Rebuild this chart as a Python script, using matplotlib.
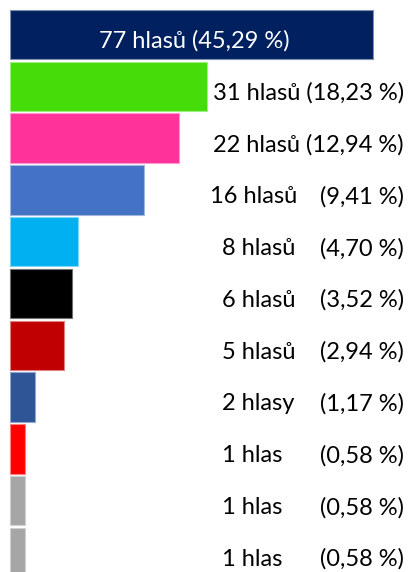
import matplotlib.pyplot as plt

# vote results, top to bottom
votes = [77, 31, 22, 16, 8, 6, 5, 2, 1, 1, 1]
pct = ['45,29', '18,23', '12,94', '9,41', '4,70', '3,52', '2,94', '1,17', '0,58', '0,58', '0,58']
words = ['hlasů', 'hlasů', 'hlasů', 'hlasů', 'hlasů', 'hlasů', 'hlasů', 'hlasy', 'hlas', 'hlas', 'hlas']
# bar lengths as drawn in the picture (not proportional to votes)
bar_len = [363, 197, 169, 134, 68, 62, 54, 25, 15, 15, 15]
colors = ['#002060', '#44DD0A', '#FF3399', '#4472C4', '#00B0F0', '#000000',
          '#C00000', '#2F5597', '#FF0000', '#A6A6A6', '#A6A6A6']
edges = ['#8090B0', '#A0EE80', '#FF99CC', '#A0B8E0', '#80D8F8', '#707070',
         '#E08080', '#90A8D0', '#FF8080', '#D0D0D0', '#D0D0D0']

plt.rcParams['font.family'] = ['Lato', 'DejaVu Sans']

fig = plt.figure(figsize=(4.09, 5.72), dpi=100)
ax = fig.add_axes([0, 0, 1, 1])
ax.set_xlim(-10, 399)
step = 51.8
ax.set_ylim((572 - 34.5) / step, -34.5 / step)
ax.axis('off')

ypos = list(range(len(votes)))
ax.barh(ypos, bar_len, height=0.95, color=colors, edgecolor=edges, linewidth=0.8)

fs = 17
dy = 0.13
for i in ypos:
    count = f'{votes[i]} {words[i]}'
    if i == 0:
        ax.text(bar_len[i] / 2 + 3, i + dy, f'{count} ({pct[i]} %)', color='white',
                ha='center', va='center', fontsize=fs)
    elif len(pct[i]) > 4:
        ax.text(394, i + dy, f'{count} ({pct[i]} %)', color='black',
                ha='right', va='center', fontsize=fs)
    else:
        x0 = 212 - (len(str(votes[i])) - 1) * 12
        ax.text(x0, i + dy, count, color='black', ha='left', va='center', fontsize=fs)
        ax.text(394, i + dy, f'({pct[i]} %)', color='black',
                ha='right', va='center', fontsize=fs)

fig.savefig('out.png', dpi=100)
